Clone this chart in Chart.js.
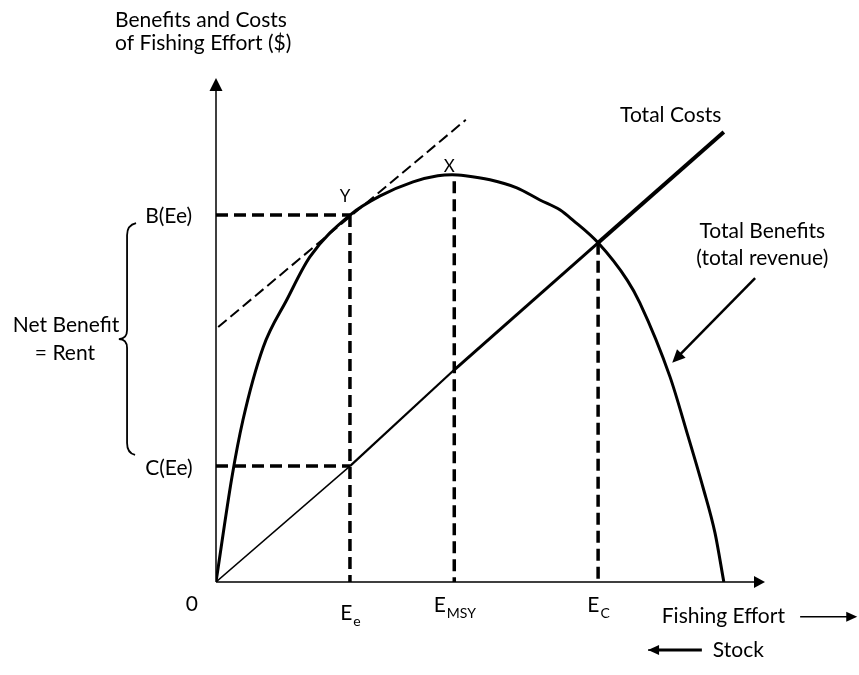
<!DOCTYPE html>
<html lang="en">
  <head>
    <meta charset="UTF-8" />
    <script src="https://cdn.jsdelivr.net/npm/chart.js"></script>
    <title>Fishery rent</title>
    <style>
      body { margin: 0; background: #fff; }
    </style>
  </head>
  <body>
    <canvas id="myChart" width="859" height="675"></canvas>

    <script>
      // total benefits (revenue) curve
      const benefitEffort = [0, 2.9, 4.9, 8.6, 12.9, 17.1, 24.4, 29.9, 35.9, 40.4, 43.0, 45.4, 49.9, 54.8, 59.0, 62.7, 65.0, 69.6, 74.9, 77.2, 82.7, 85.8, 88.7, 90.9, 92.5];
      const benefitValue = [0, 20.8, 32.1, 46.6, 56.0, 64.5, 72.8, 76.6, 79.4, 80.6, 80.8, 80.6, 79.8, 78.2, 75.8, 73.8, 71.8, 67.3, 59.9, 55.4, 40.7, 29.6, 18.8, 9.7, 0];

      // total costs line at the marked efforts
      const costEffort = [0, 24.4, 43.4, 69.6, 92.5];
      const costValue = [0, 23.0, 42.1, 67.3, 89.3];
      const costWidth = [1.5, 2.2, 3, 4];

      // tangent at Y
      const tangentEffort = [0.4, 45.5];
      const tangentValue = [50.6, 91.7];

      // key points
      const Ee = 24.4, BEe = 72.8, CEe = 23.0;
      const Emsy = 43.4, Bmsy = 79.5;
      const Ec = 69.6, BEc = 67.3;

      function pts(xs, ys) {
        return xs.map(function (x, i) { return { x: x, y: ys[i] }; });
      }

      const dashed = { borderColor: "#000", borderWidth: 3.5, borderDash: [12, 6], pointRadius: 0, showLine: true };

      const data = {
        datasets: [
          Object.assign({ data: pts([0, Ee], [BEe, BEe]) }, dashed),
          Object.assign({ data: pts([Ee, Ee], [BEe, 0]) }, dashed),
          Object.assign({ data: pts([0, Ee], [CEe, CEe]) }, dashed),
          Object.assign({ data: pts([Emsy, Emsy], [Bmsy, 0]) }, dashed),
          Object.assign({ data: pts([Ec, Ec], [BEc, 0]) }, dashed),
          {
            label: "Tangent",
            data: pts(tangentEffort, tangentValue),
            borderColor: "#000",
            borderWidth: 2,
            borderDash: [11, 5],
            pointRadius: 0,
            showLine: true,
          },
          {
            label: "Total Costs",
            data: pts(costEffort, costValue),
            borderColor: "#000",
            borderWidth: 2,
            segment: {
              borderWidth: function (ctx) { return costWidth[ctx.p0DataIndex]; },
            },
            pointRadius: 0,
            showLine: true,
          },
          {
            label: "Total Benefits",
            data: pts(benefitEffort, benefitValue),
            borderColor: "#000",
            borderWidth: 3,
            cubicInterpolationMode: "monotone",
            pointRadius: 0,
            showLine: true,
          },
        ],
      };

      function arrowHead(c, x1, y1, x2, y2, len, half) {
        const a = Math.atan2(y2 - y1, x2 - x1);
        c.beginPath();
        c.moveTo(x2, y2);
        c.lineTo(x2 - len * Math.cos(a) + half * Math.sin(a), y2 - len * Math.sin(a) - half * Math.cos(a));
        c.lineTo(x2 - len * Math.cos(a) - half * Math.sin(a), y2 - len * Math.sin(a) + half * Math.cos(a));
        c.closePath();
        c.fill();
      }

      const decorations = {
        id: "decorations",
        afterDraw: function (chart) {
          const c = chart.ctx;
          const sx = chart.scales.x, sy = chart.scales.y;
          const X = function (v) { return sx.getPixelForValue(v); };
          const Y = function (v) { return sy.getPixelForValue(v); };
          const font = "Lato, 'Open Sans', sans-serif";
          const big = "21px " + font;

          c.save();
          c.strokeStyle = "#000";
          c.fillStyle = "#000";

          // axes
          c.lineWidth = 1.5;
          c.beginPath();
          c.moveTo(X(0), Y(0));
          c.lineTo(X(98), Y(0));
          c.moveTo(X(0), Y(0));
          c.lineTo(X(0), Y(97.6));
          c.stroke();
          arrowHead(c, X(0), Y(0), X(100), Y(0), 11, 6);
          arrowHead(c, X(0), Y(0), X(0), Y(100), 13, 6.5);

          // pointer to total benefits
          c.lineWidth = 2.5;
          c.beginPath();
          c.moveTo(X(98.2), Y(60.3));
          c.lineTo(X(84.6), Y(45.2));
          c.stroke();
          arrowHead(c, X(98.2), Y(60.3), X(83.1), Y(43.5), 13, 6);

          // effort / stock arrows
          c.lineWidth = 1.5;
          c.beginPath();
          c.moveTo(X(106.4), Y(-6.9));
          c.lineTo(X(115), Y(-6.9));
          c.stroke();
          arrowHead(c, X(106.4), Y(-6.9), X(116.8), Y(-6.9), 11, 5);
          c.lineWidth = 3;
          c.beginPath();
          c.moveTo(X(88.5), Y(-13.5));
          c.lineTo(X(80.5), Y(-13.5));
          c.stroke();
          c.lineWidth = 1.5;
          c.beginPath();
          c.moveTo(X(80.8), Y(-13.5));
          c.lineTo(X(78.7), Y(-13.5));
          c.stroke();
          arrowHead(c, X(88.5), Y(-13.5), X(78.7), Y(-13.5), 11, 5);

          // brace for net benefit
          const bx = X(-16.2), tipX = X(-17.7);
          const top = Y(71.2), mid = Y(48.2), bot = Y(25.2);
          c.lineWidth = 1.8;
          c.beginPath();
          c.moveTo(bx + 9, top);
          c.quadraticCurveTo(bx, top + 2, bx, top + 12);
          c.lineTo(bx, mid - 9);
          c.quadraticCurveTo(bx, mid, tipX, mid);
          c.quadraticCurveTo(bx, mid, bx, mid + 9);
          c.lineTo(bx, bot - 12);
          c.quadraticCurveTo(bx, bot - 2, bx + 8, bot);
          c.stroke();

          // text
          c.textBaseline = "alphabetic";
          c.font = big;
          c.textAlign = "left";
          c.fillText("Benefits and Costs", X(-18.4), Y(110.1));
          c.fillText("of Fishing Effort ($)", X(-18.4), Y(105.6));
          c.fillText("Total Costs", X(73.6), Y(91.3));
          c.fillText("Fishing Effort", X(81.2), Y(-8.1));
          c.fillText("Stock", X(90.5), Y(-14.9));
          c.fillText("Net Benefit", X(-37), Y(49.6));
          c.fillText("= Rent", X(-33), Y(44.0));
          c.fillText("B(Ee)", X(-12.9), Y(BEe - 1.6));
          c.fillText("C(Ee)", X(-12.9), Y(CEe - 1.8));
          c.textAlign = "center";
          c.fillText("Total Benefits", X(99.5), Y(68.3));
          c.fillText("(total revenue)", X(99.5), Y(62.9));
          c.fillText("0", X(-4.4), Y(-5.8));

          c.font = "17px " + font;
          c.fillText("Y", X(Ee) - 5, Y(BEe + 2.6));
          c.fillText("X", X(Emsy) - 5, Y(81.3));

          // effort labels with subscripts
          function effortLabel(v, sub, base) {
            c.font = big;
            const w1 = c.measureText("E").width;
            c.font = "14px " + font;
            const w2 = c.measureText(sub).width;
            const left = X(v) - (w1 + w2) / 2;
            c.textAlign = "left";
            c.font = big;
            c.fillText("E", left, Y(base));
            c.font = "14px " + font;
            c.fillText(sub, left + w1 + 1, Y(base) + 6);
          }
          effortLabel(Ee, "e", -7.5);
          effortLabel(Emsy, "MSY", -6);
          effortLabel(Ec, "C", -6);

          c.restore();
        },
      };

      const config = {
        type: "scatter",
        data: data,
        options: {
          responsive: false,
          animation: false,
          layout: { padding: { left: 216, right: 94, top: 78, bottom: 93 } },
          plugins: { legend: { display: false }, tooltip: { enabled: false } },
          scales: {
            x: { type: "linear", min: 0, max: 100, display: false },
            y: { type: "linear", min: 0, max: 100, display: false },
          },
        },
        plugins: [decorations],
      };

      const myChart = new Chart(document.getElementById("myChart"), config);
    </script>
  </body>
</html>
